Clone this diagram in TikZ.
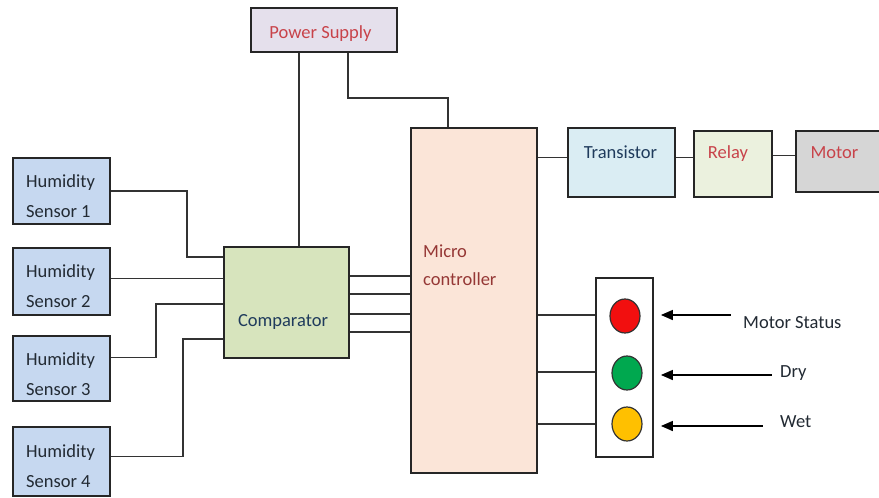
\documentclass[tikz,border=0pt]{standalone}
\usepackage{fontspec}
\setmainfont{Carlito}
\usetikzlibrary{calc,arrows.meta,shapes.geometric}
\definecolor{sensfill}{HTML}{C6D8F0}
\definecolor{psfill}{HTML}{E5E0EC}
\definecolor{mcfill}{HTML}{FBE5D8}
\definecolor{trfill}{HTML}{DAEDF3}
\definecolor{rlfill}{HTML}{EBF1DE}
\definecolor{mofill}{HTML}{D6D6D6}
\definecolor{cpfill}{HTML}{D7E4BD}
\definecolor{redtxt}{HTML}{C8434A}
\definecolor{mctxt}{HTML}{953735}
\definecolor{bluetxt}{HTML}{1F3B5C}
\definecolor{darktxt}{HTML}{222A33}
\definecolor{wire}{HTML}{333333}
\definecolor{lampred}{HTML}{F20F0F}
\definecolor{lampgreen}{HTML}{00A84F}
\definecolor{lampyellow}{HTML}{FFC000}
\begin{document}
\begin{tikzpicture}[x=1pt,y=-1pt,
  box/.style={draw=black!85,line width=1.8pt,inner sep=0pt,rectangle},
  lbl/.style={inner sep=0pt,font=\fontsize{18.5}{22}\selectfont},
  wireline/.style={draw=wire,line width=1.7pt},
  lamp/.style={ellipse,draw=black!80,line width=1.2pt,minimum width=30pt,minimum height=34pt,inner sep=0pt},
  arr/.style={draw=black,line width=1.6pt,-{Triangle[length=12pt,width=10pt]}}]
\useasboundingbox[fill=white] (0,0) rectangle (879,498);
% boxes
\node[box,fill=psfill,minimum width=146pt,minimum height=44pt] (ps) at (324,30) {};
\node[box,fill=mcfill,minimum width=126pt,minimum height=345pt] (mc) at (474,300.5) {};
\node[box,fill=trfill,minimum width=107pt,minimum height=69pt] (tr) at (621.5,162.5) {};
\node[box,fill=rlfill,minimum width=78pt,minimum height=66pt] (rl) at (733,164) {};
\node[box,fill=mofill,minimum width=86pt,minimum height=61pt] (mo) at (839,161.5) {};
\node[box,fill=sensfill,minimum width=97pt,minimum height=66pt] (s1) at (61.5,191) {};
\node[box,fill=sensfill,minimum width=97pt,minimum height=67pt] (s2) at (61.5,281.5) {};
\node[box,fill=sensfill,minimum width=97pt,minimum height=65pt] (s3) at (61.5,368.5) {};
\node[box,fill=sensfill,minimum width=97pt,minimum height=69pt] (s4) at (61.5,461.5) {};
\node[box,fill=cpfill,minimum width=125pt,minimum height=111pt] (comp) at (286.5,302.5) {};
\node[box,fill=white,minimum width=57pt,minimum height=179pt] (tl) at (624.5,367.5) {};
\node[lamp,fill=lampred] (lred) at (625,316) {};
\node[lamp,fill=lampgreen] (lgreen) at (627,373) {};
\node[lamp,fill=lampyellow] (lyellow) at (627,424) {};
% texts
\node[lbl,anchor=base,text=redtxt] (tps) at (320.5,38) {Power Supply};
\node[lbl,anchor=base west,text=mctxt] (tmc1) at (423,257) {Micro};
\node[lbl,anchor=base west,text=mctxt] (tmc2) at (423,285) {controller};
\node[lbl,anchor=base,text=bluetxt] (ttr) at (620.5,158) {Transistor};
\node[lbl,anchor=base,text=redtxt] (trl) at (728,158) {Relay};
\node[lbl,anchor=base,text=redtxt] (tmo) at (834.5,158) {Motor};
\node[lbl,anchor=base,text=bluetxt] (tcp) at (283,326) {Comparator};
\foreach \n/\t/\k in {s1/187/1,s2/277/2,s3/365/3,s4/457/4}{
  \node[lbl,anchor=base west,text=darktxt] (th\k) at (26,\t) {Humidity};
  \node[lbl,anchor=base west,text=darktxt] (ts\k) at (26,\t+30) {Sensor \k};
}
\node[lbl,anchor=base west,text=darktxt] (tms) at (743,328) {Motor Status};
\node[lbl,anchor=base west,text=darktxt] (tdry) at (780,377) {Dry};
\node[lbl,anchor=base west,text=darktxt] (twet) at (780,427) {Wet};
% connectors: power supply
\draw[wireline] ($(ps.south west)+(49,0)$) coordinate (p1) -- (p1 |- comp.north);
\draw[wireline] ($(ps.south west)+(98,0)$) -- ++(0,45) -| ($(mc.north west)+(38,0)$);
% micro controller chain
\draw[wireline] ($(tr.west)+(0,-5)$) coordinate (q1) -- (q1 -| mc.east);
\draw[wireline] ($(tr.east)+(0,-5)$) coordinate (q2) -- (q2 -| rl.west);
\draw[wireline] ($(mo.west)+(0,-6)$) coordinate (q3) -- (q3 -| rl.east);
% sensors to comparator
\draw[wireline] (s1.east) -| ($(comp.north west)+(-36,11)$) -- ++(36,0);
\draw[wireline] ($(s2.east)+(0,-3)$) coordinate (r2) -- (r2 -| comp.west);
\draw[wireline] ($(s3.east)+(0,-11)$) -| ($(comp.north west)+(-67,58)$) -- ++(67,0);
\draw[wireline] ($(s4.east)+(0,-5)$) -| ($(comp.north west)+(-40,93)$) -- ++(40,0);
% comparator to micro controller
\foreach \d in {30,48,68,86}{
  \draw[wireline] ($(comp.north east)+(0,\d)$) coordinate (tmp) -- (tmp -| mc.west);
}
% micro controller to lamps
\draw[wireline] ($(lred)+(0,-1)$) coordinate (u1) ($(u1 -| mc.east)$) -- (u1 -| tl.west);
\draw[wireline] ($(lgreen)+(0,-1)$) coordinate (u2) (u2 -| mc.east) -- (u2 -| tl.west);
\draw[wireline] (lyellow -| mc.east) -- (lyellow -| tl.west);
% arrows
\draw[arr] ($(tl.east |- lred)+(77,-1)$) -- ($(tl.east |- lred)+(7,-1)$);
\draw[arr] ($(tl.east |- lgreen)+(118,2)$) -- ($(tl.east |- lgreen)+(7,2)$);
\draw[arr] ($(tl.east |- lyellow)+(109,2)$) -- ($(tl.east |- lyellow)+(7,2)$);
\end{tikzpicture}
\end{document}
